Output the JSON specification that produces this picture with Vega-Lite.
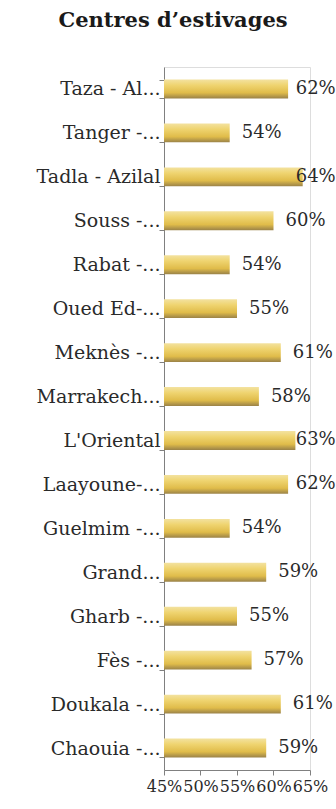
{
  "$schema": "https://vega.github.io/schema/vega-lite/v6.json",
  "width": 146,
  "height": 703,
  "autosize": {"type": "none"},
  "padding": {"left": 164, "top": 67, "right": 26, "bottom": 39},
  "background": "white",
  "title": {
    "text": "Centres d’estivages",
    "font": "DejaVu Serif",
    "fontSize": 21,
    "fontWeight": "bold",
    "color": "#1a1a1a",
    "anchor": "middle",
    "dx": -64,
    "offset": 27
  },
  "data": {
    "values": [
      {"region": "Taza - Al...", "value": 0.62},
      {"region": "Tanger -...", "value": 0.54},
      {"region": "Tadla - Azilal", "value": 0.64},
      {"region": "Souss -...", "value": 0.60},
      {"region": "Rabat -...", "value": 0.54},
      {"region": "Oued Ed-...", "value": 0.55},
      {"region": "Meknès -...", "value": 0.61},
      {"region": "Marrakech...", "value": 0.58},
      {"region": "L'Oriental", "value": 0.63},
      {"region": "Laayoune-...", "value": 0.62},
      {"region": "Guelmim -...", "value": 0.54},
      {"region": "Grand...", "value": 0.59},
      {"region": "Gharb -...", "value": 0.55},
      {"region": "Fès -...", "value": 0.57},
      {"region": "Doukala -...", "value": 0.61},
      {"region": "Chaouia -...", "value": 0.59}
    ]
  },
  "encoding": {
    "y": {
      "field": "region",
      "type": "nominal",
      "sort": null,
      "scale": {"paddingInner": 0.57, "paddingOuter": 0.285},
      "axis": {
        "title": null,
        "labelFont": "DejaVu Serif",
        "labelFontSize": 19,
        "labelColor": "#2a2a2a",
        "labelPadding": -1,
        "labelLimit": 200,
        "tickBand": "extent",
        "tickSize": 5,
        "tickColor": "#808080",
        "domainColor": "#808080"
      }
    }
  },
  "layer": [
    {
      "mark": {
        "type": "bar",
        "color": {
          "gradient": "linear",
          "x1": 0, "y1": 0, "x2": 0, "y2": 1,
          "stops": [
            {"offset": 0, "color": "#f3e2a0"},
            {"offset": 0.3, "color": "#efd470"},
            {"offset": 0.7, "color": "#e0bc4a"},
            {"offset": 1, "color": "#9a8248"}
          ]
        }
      },
      "encoding": {
        "x": {
          "field": "value",
          "type": "quantitative",
          "scale": {"domain": [0.45, 0.65], "zero": false, "nice": false},
          "axis": {
            "title": null,
            "values": [0.45, 0.5, 0.55, 0.6, 0.65],
            "format": ".0%",
            "labelFont": "DejaVu Serif",
            "labelFontSize": 16,
            "labelColor": "#2a2a2a",
            "labelFlush": false,
            "labelOverlap": false,
            "labelPadding": 3,
            "grid": false,
            "tickSize": 5,
            "tickColor": "#808080",
            "domainColor": "#808080"
          }
        },
        "x2": {"datum": 0.45}
      }
    },
    {
      "mark": {
        "type": "text",
        "align": "left",
        "font": "DejaVu Serif",
        "fontSize": 18,
        "color": "#2a2a2a"
      },
      "encoding": {
        "x": {
          "field": "value",
          "type": "quantitative",
          "scale": {"domain": [0.45, 0.614], "range": [12, 131.7], "clamp": true, "zero": false, "nice": false},
          "axis": null
        },
        "text": {"field": "value", "type": "quantitative", "format": ".0%"}
      }
    }
  ],
  "resolve": {"scale": {"x": "independent"}}
}
